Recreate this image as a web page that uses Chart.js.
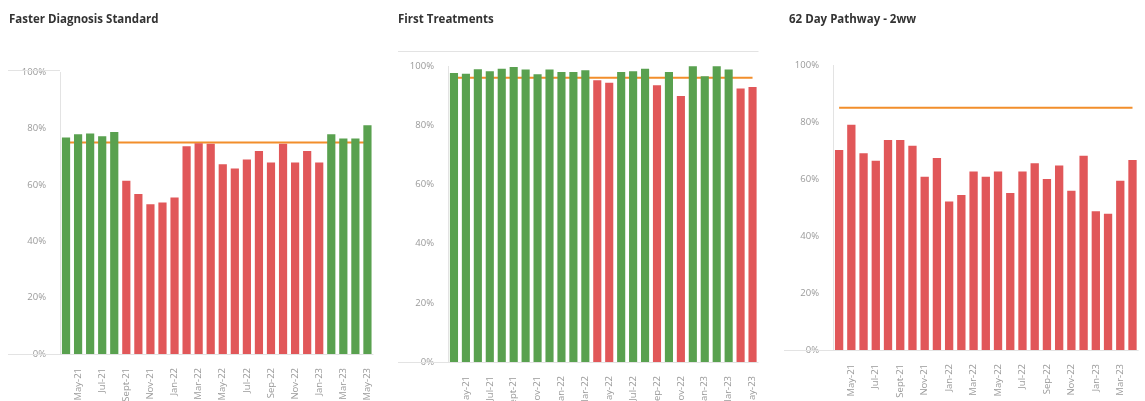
<!DOCTYPE html>
<html>
<head>
<meta charset="utf-8">
<script src="https://cdn.jsdelivr.net/npm/chart.js@4.4.0/dist/chart.umd.min.js"></script>
<style>
  html, body { margin: 0; padding: 0; background: #fff; overflow: hidden; }
  body { width: 1145px; height: 401px; position: relative; font-family: "Open Sans", sans-serif; }
  .panel { position: absolute; top: 0; height: 440px; filter: blur(0.5px); }
  .panel canvas { position: absolute; left: 0; top: 0; }
  .title { position: absolute; top: 11px; font-size: 11.5px; font-weight: 700; color: #333; white-space: nowrap; }
</style>
</head>
<body>
<div class="panel" style="left:0;width:385px"><div class="title" style="left:9px">Faster Diagnosis Standard</div><canvas id="fds"></canvas></div>
<div class="panel" style="left:385px;width:385px"><div class="title" style="left:13px">First Treatments</div><canvas id="ft"></canvas></div>
<div class="panel" style="left:770px;width:380px"><div class="title" style="left:19px">62 Day Pathway - 2ww</div><canvas id="p62"></canvas></div>

<script>
// Monthly periods, Apr-21 to May-23
const months = ['Apr-21', 'May-21', 'Jun-21', 'Jul-21', 'Aug-21', 'Sept-21', 'Oct-21', 'Nov-21', 'Dec-21',
    'Jan-22', 'Feb-22', 'Mar-22', 'Apr-22', 'May-22', 'Jun-22', 'Jul-22', 'Aug-22', 'Sep-22', 'Oct-22',
    'Nov-22', 'Dec-22', 'Jan-23', 'Feb-23', 'Mar-23', 'Apr-23', 'May-23'];

// Performance (% of patients) per month
const fdsValues = [76.8, 77.9, 78.2, 77.2, 78.7, 61.4, 56.7, 53.1, 53.7, 55.5, 73.7, 74.7, 74.6,
    67.3, 65.8, 69.0, 72.0, 67.9, 74.6, 67.9, 72.0, 67.9, 77.9, 76.4, 76.4, 81.1];
const firstTreatmentValues = [97.6, 97.4, 98.9, 98.2, 99.1, 99.7, 98.8, 97.2, 98.8, 98.0, 98.0, 98.6, 95.2,
    94.3, 98.0, 98.2, 99.1, 93.5, 98.0, 89.9, 99.9, 96.5, 99.9, 98.8, 92.4, 92.9];
const pathwayValues = [70.2, 79.0, 69.0, 66.4, 73.7, 73.7, 71.7, 60.8, 67.4, 52.1, 54.4, 62.6, 60.8,
    62.6, 55.1, 62.6, 65.5, 60.0, 64.7, 55.9, 68.2, 48.7, 47.8, 59.4, 66.7];

// Operational standards
const fdsTarget = 75;
const firstTreatmentTarget = 96;
const pathwayTarget = 85;

const yTicks = [0, 20, 40, 60, 80, 100];

const GREEN = '#59a14f';
const RED = '#e15759';
const ORANGE = '#f28e2b';
const RULE = '#e3e3e3';
const LABEL = '#9a9a9a';

// Tableau-style rules: baseline running under the axis labels, optional header rule
const rulesPlugin = {
    id: 'rules',
    afterDraw(chart, args, opts) {
        const { ctx, chartArea } = chart;
        ctx.save();
        ctx.strokeStyle = RULE;
        ctx.lineWidth = 1;
        ctx.beginPath();
        ctx.moveTo(opts.left, Math.round(chartArea.bottom) + 0.5);
        ctx.lineTo(chartArea.right, Math.round(chartArea.bottom) + 0.5);
        if (opts.header != null) {
            ctx.moveTo(opts.left, opts.header + 0.5);
            ctx.lineTo(opts.headerRight ?? chartArea.right, opts.header + 0.5);
        }
        ctx.stroke();
        ctx.restore();
    }
};

/**
 * Builds one monthly performance bar chart with its target line
 * @param {string} canvasId - ID of the canvas element
 * @param {Object} cfg - values, target and layout for the panel
 */
function createPerformanceChart(canvasId, cfg) {
    const canvas = document.getElementById(canvasId);
    canvas.width = cfg.width;
    canvas.height = 440;
    const labels = months.slice(0, cfg.values.length);

    return new Chart(canvas.getContext('2d'), {
        data: {
            labels: labels,
            datasets: [{
                type: 'bar',
                data: cfg.values,
                backgroundColor: cfg.values.map(v => v >= cfg.target ? GREEN : RED),
                barPercentage: 0.68,
                categoryPercentage: 1,
                order: 1
            }, {
                type: 'line',
                data: labels.map(() => cfg.target),
                borderColor: ORANGE,
                borderWidth: 2,
                pointRadius: 0,
                order: 2
            }]
        },
        options: {
            responsive: false,
            animation: false,
            layout: { padding: { left: cfg.padLeft, right: cfg.padRight, top: cfg.top, bottom: 0 } },
            plugins: {
                legend: { display: false },
                tooltip: { enabled: false },
                rules: { left: cfg.padLeft, header: cfg.header, headerRight: cfg.headerRight }
            },
            scales: {
                x: {
                    grid: { display: false },
                    border: { display: false },
                    ticks: {
                        autoSkip: false,
                        minRotation: 90,
                        maxRotation: 90,
                        padding: 6,
                        color: LABEL,
                        font: { family: 'Open Sans', size: 9.5 },
                        callback: (value, index) => index % 2 === 1 ? labels[index] : ''
                    },
                    afterFit: scale => { scale.height = 440 - cfg.bottom; }
                },
                y: {
                    min: 0,
                    max: 100,
                    grid: { display: false },
                    border: { display: true, color: RULE },
                    afterBuildTicks: scale => { scale.ticks = yTicks.map(v => ({ value: v })); },
                    ticks: {
                        padding: 6,
                        color: LABEL,
                        font: { family: 'Open Sans', size: 9.5 },
                        callback: v => v + '%'
                    },
                    afterFit: scale => { scale.width = cfg.axisLeft - cfg.padLeft; }
                }
            }
        },
        plugins: [rulesPlugin]
    });
}

createPerformanceChart('fds', {
    values: fdsValues, target: fdsTarget, width: 385,
    padLeft: 8, padRight: 8, axisLeft: 60, top: 72, bottom: 354, header: 70, headerRight: 60
});
createPerformanceChart('ft', {
    values: firstTreatmentValues, target: firstTreatmentTarget, width: 385,
    padLeft: 13, padRight: 3, axisLeft: 63, top: 66, bottom: 362, header: 51
});
createPerformanceChart('p62', {
    values: pathwayValues, target: pathwayTarget, width: 380,
    padLeft: 14, padRight: 5, axisLeft: 63, top: 65, bottom: 350
});
</script>
</body>
</html>
